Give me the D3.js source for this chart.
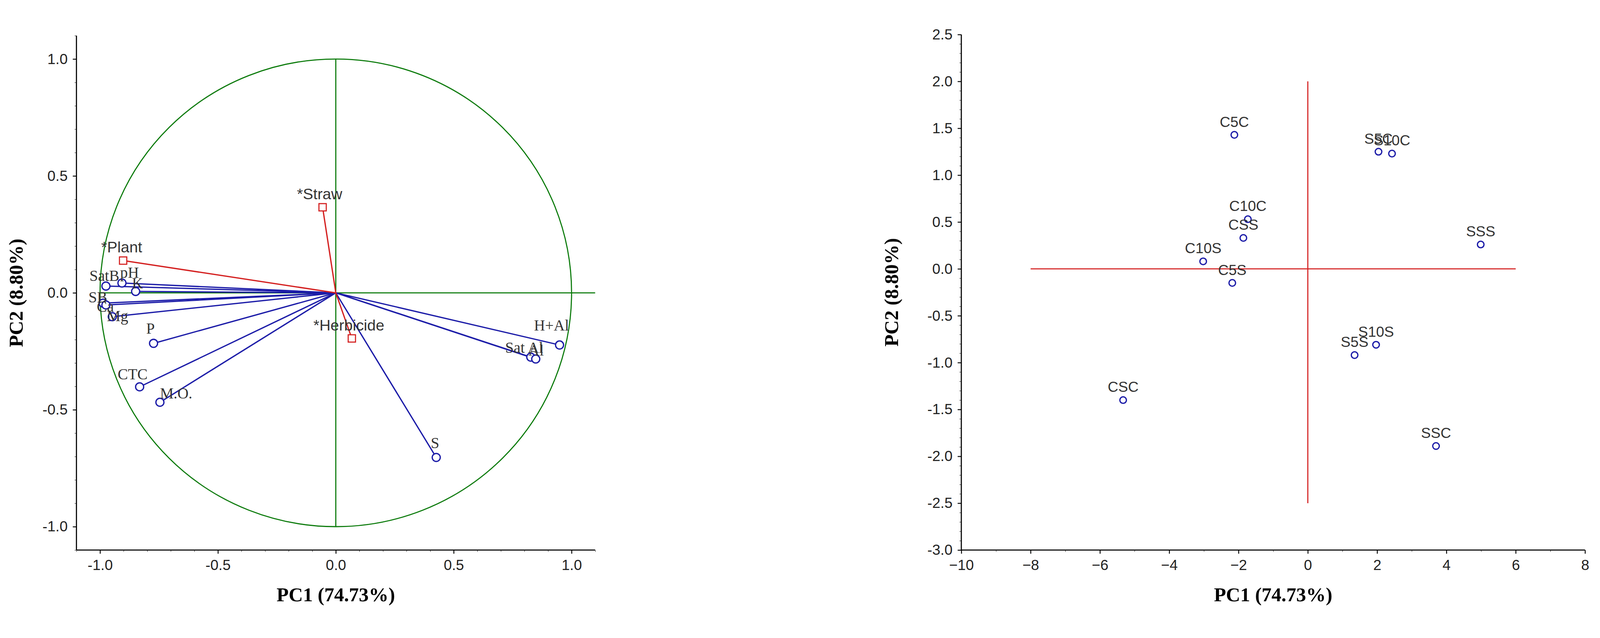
<!DOCTYPE html><html><head><meta charset="utf-8">
<script src="https://cdn.jsdelivr.net/npm/d3@7"></script>
<style>html,body{margin:0;padding:0;background:#fff;overflow:hidden}svg{display:block}</style></head><body>
<svg id="c" viewBox="0 0 4374 1633" preserveAspectRatio="xMidYMid meet" style="width:100vw;height:100vh"></svg>
<script>
const varNames=["SatB","pH","K","SB","Ca","Mg","P","CTC","M.O.","S","H+Al","Sat Al","Al"];
const varPC1=[-0.975,-0.907,-0.849,-0.987,-0.975,-0.948,-0.773,-0.832,-0.746,0.426,0.949,0.827,0.848];
const varPC2=[0.029,0.042,0.006,-0.044,-0.052,-0.102,-0.216,-0.402,-0.468,-0.704,-0.223,-0.275,-0.283];
const suppNames=["*Straw","*Plant","*Herbicide"];
const suppPC1=[-0.056,-0.902,0.068];
const suppPC2=[0.366,0.138,-0.195];
const scoreNames=["C5C","S5C","S10C","C10C","CSS","SSS","C10S","C5S","S10S","S5S","CSC","SSC"];
const scorePC1=[-2.12,2.04,2.43,-1.73,-1.86,4.99,-3.02,-2.18,1.97,1.35,-5.33,3.70];
const scorePC2=[1.43,1.25,1.23,0.53,0.33,0.26,0.08,-0.15,-0.81,-0.92,-1.40,-1.89];
const leftTicks=[-1.0,-0.5,0.0,0.5,1.0];
const rightXTicks=[-10,-8,-6,-4,-2,0,2,4,6,8];
const rightYTicks=[2.5,2.0,1.5,1.0,0.5,0.0,-0.5,-1.0,-1.5,-2.0,-2.5,-3.0];
const xTitle="PC1 (74.73%)", yTitle="PC2 (8.80%)";

const svg=d3.select("#c");
const sans="'Liberation Sans',Arial,sans-serif", serif="'Liberation Serif','Times New Roman',serif";
const fmt1=d=>d.toFixed(1);

function frame(L,R,T,B,xs,ys,xt,yt,xf,yf,xminor,yminor){
  const g=svg.append("g");
  const ax=g.append("g").attr("transform",`translate(0,${B})`).call(d3.axisBottom(xs).tickValues(xt).tickFormat(xf).tickSize(10).tickPadding(16));
  const ay=g.append("g").attr("transform",`translate(${L},0)`).call(d3.axisLeft(ys).tickValues(yt).tickFormat(yf).tickSize(10).tickPadding(14));
  g.append("g").attr("transform",`translate(0,${B})`).call(d3.axisBottom(xs).tickValues(xminor).tickFormat("").tickSize(5)).select(".domain").remove();
  g.append("g").attr("transform",`translate(${L},0)`).call(d3.axisLeft(ys).tickValues(yminor).tickFormat("").tickSize(5)).select(".domain").remove();
  [ax,ay].forEach(a=>{a.select(".domain").remove();
    a.selectAll("line").attr("stroke-width",2.5);
    a.selectAll("text").attr("font-family",sans).attr("font-size",40).attr("fill","#222");});
  g.selectAll("line").attr("stroke","#000");
  g.append("line").attr("x1",L).attr("x2",R).attr("y1",B).attr("y2",B).attr("stroke","#000").attr("stroke-width",3);
  g.append("line").attr("x1",L).attr("x2",L).attr("y1",T).attr("y2",B).attr("stroke","#000").attr("stroke-width",3);
  g.append("text").attr("x",(L+R)/2).attr("y",B+140).attr("text-anchor","middle").attr("font-family",serif).attr("font-weight","bold").attr("font-size",54).text(xTitle);
  return g;
}
function ytitle(x,y){svg.append("text").attr("transform",`translate(${x},${y}) rotate(-90)`).attr("text-anchor","middle").attr("font-family",serif).attr("font-weight","bold").attr("font-size",54).text(yTitle);}

// LEFT
const L1=209,R1=1627,T1=42,B1=1448;
const x1=d3.scaleLinear().domain([-1.1,1.1]).range([L1,R1]);
const y1=d3.scaleLinear().domain([-1.1,1.1]).range([B1,T1]);
frame(L1,R1,T1,B1,x1,y1,leftTicks,leftTicks,fmt1,fmt1,d3.range(-11,12).map(d=>d/10),d3.range(-11,12).map(d=>d/10));
ytitle(62,(T1+B1)/2);
const green="#0a7a0a";
svg.append("ellipse").attr("cx",x1(0)).attr("cy",y1(0)).attr("rx",x1(1)-x1(0)).attr("ry",y1(0)-y1(1)).attr("fill","none").attr("stroke",green).attr("stroke-width",3);
svg.append("line").attr("x1",x1(-1)).attr("x2",x1(1.1)).attr("y1",y1(0)).attr("y2",y1(0)).attr("stroke",green).attr("stroke-width",3);
svg.append("line").attr("x1",x1(0)).attr("x2",x1(0)).attr("y1",y1(1)).attr("y2",y1(-1)).attr("stroke",green).attr("stroke-width",3);
const blue="#1c1ca8";
varNames.forEach((n,i)=>{
  svg.append("line").attr("x1",x1(0)).attr("y1",y1(0)).attr("x2",x1(varPC1[i])).attr("y2",y1(varPC2[i])).attr("stroke",blue).attr("stroke-width",3.5);
});
varNames.forEach((n,i)=>{
  svg.append("circle").attr("cx",x1(varPC1[i])).attr("cy",y1(varPC2[i])).attr("r",11).attr("fill","#fff").attr("stroke",blue).attr("stroke-width",3.5);
});
const varLab={"SatB":[-45,-14],"pH":[-5,-14],"K":[-10,-8],"SB":[-40,-2],"Ca":[-25,18],"Mg":[-15,12],
 "P":[-20,-26],"CTC":[-60,-20],"M.O.":[0,-10],"S":[-15,-25],"H+Al":[-70,-40],"Sat Al":[-70,-12],"Al":[-20,-10]};
varNames.forEach((n,i)=>{
  const o=varLab[n];
  svg.append("text").attr("x",x1(varPC1[i])+o[0]).attr("y",y1(varPC2[i])+o[1]).attr("font-family",serif).attr("font-size",42).attr("fill","#333").text(n);
});
const red="#d42020";
suppNames.forEach((n,i)=>{
  svg.append("line").attr("x1",x1(0)).attr("y1",y1(0)).attr("x2",x1(suppPC1[i])).attr("y2",y1(suppPC2[i])).attr("stroke",red).attr("stroke-width",3.5);
  svg.append("rect").attr("x",x1(suppPC1[i])-10).attr("y",y1(suppPC2[i])-10).attr("width",20).attr("height",20).attr("fill","#fff").attr("stroke",red).attr("stroke-width",3);
});
const suppLab=[[-70,-22],[-60,-22],[-105,-22]];
suppNames.forEach((n,i)=>{
  svg.append("text").attr("x",x1(suppPC1[i])+suppLab[i][0]).attr("y",y1(suppPC2[i])+suppLab[i][1]).attr("font-family",sans).attr("font-size",42).attr("fill","#333").text(n);
});

// RIGHT
const L2=2628,R2=4333,T2=39,B2=1448;
const x2=d3.scaleLinear().domain([-10,8]).range([L2,R2]);
const y2=d3.scaleLinear().domain([-3,2.5]).range([B2,T2]);
frame(L2,R2,T2,B2,x2,y2,rightXTicks,rightYTicks,d3.format("d"),fmt1,d3.range(-10,9),d3.range(-30,26).map(d=>d/10));
ytitle(2455,(T2+B2)/2);
svg.append("line").attr("x1",x2(-8)).attr("x2",x2(6)).attr("y1",y2(0)).attr("y2",y2(0)).attr("stroke",red).attr("stroke-width",3);
svg.append("line").attr("x1",x2(0)).attr("x2",x2(0)).attr("y1",y2(2)).attr("y2",y2(-2.5)).attr("stroke",red).attr("stroke-width",3);
scoreNames.forEach((n,i)=>{
  svg.append("circle").attr("cx",x2(scorePC1[i])).attr("cy",y2(scorePC2[i])).attr("r",9).attr("fill","#fff").attr("stroke",blue).attr("stroke-width",3.5);
  svg.append("text").attr("x",x2(scorePC1[i])).attr("y",y2(scorePC2[i])-22).attr("text-anchor","middle").attr("font-family",sans).attr("font-size",40).attr("fill","#333").text(n);
});
</script></body></html>
